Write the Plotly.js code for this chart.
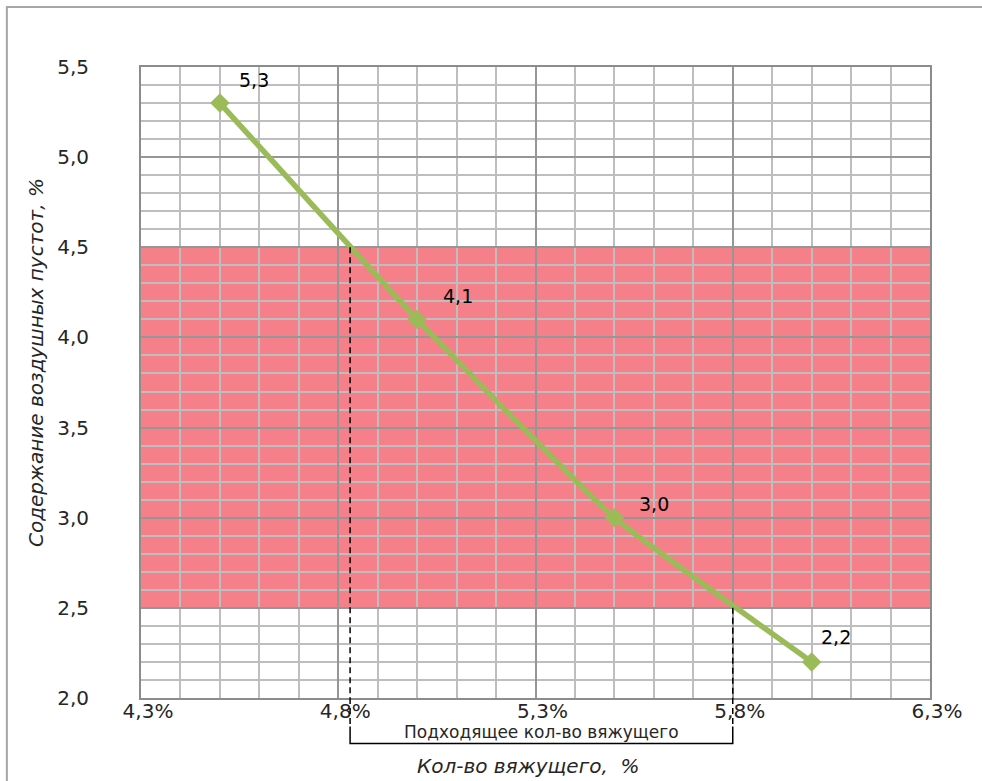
<!DOCTYPE html>
<html>
<head>
<meta charset="utf-8">
<script src="https://cdn.plot.ly/plotly-3.0.1.min.js"></script>
<style>
  html, body { margin: 0; padding: 0; background: #ffffff; }
  #chart { width: 982px; height: 781px; }
</style>
</head>
<body>
<div id="chart"></div>
<script>
// Data
const binderPct = [4.5, 5.0, 5.5, 6.0];
const airVoids = [5.3, 4.1, 3.0, 2.2];
const pointLabels = ['5,3', '4,1', '3,0', '2,2'];
const bandRange = [2.5, 4.5];
const suitableBinder = [4.83, 5.80];
const xTickRange = [4.3, 6.3];
const yTickRange = [2.0, 5.5];
const bracketLabel = 'Подходящее кол-во вяжущего';
const xTitle = 'Кол-во вяжущего,\u00a0\u00a0%';
const yTitle = 'Содержание воздушных пустот, %';

// label placement (pixels, style only)
const labelDX = [34, 41, 40, 24];
const labelDY = [23, 23, 14, 25];

const FONT = 'DejaVu Sans, Verdana, sans-serif';
const TXT = '#262626';

const trace = {
  x: binderPct,
  y: airVoids,
  type: 'scatter',
  mode: 'lines+markers',
  line: { color: '#9BBB59', width: 5.5, shape: 'spline', smoothing: 0.4 },
  marker: { symbol: 'diamond', size: 15, color: '#9BBB59' },
  hoverinfo: 'skip',
  cliponaxis: false
};

const dash = { color: '#000000', width: 1.5, dash: '6px,4px' };
const shapes = [
  { type: 'rect', xref: 'x', yref: 'y', x0: xTickRange[0], x1: xTickRange[1], y0: bandRange[0], y1: bandRange[1],
    fillcolor: '#F5808A', line: { width: 0 }, layer: 'below' },
  { type: 'line', xref: 'x', yref: 'y', x0: suitableBinder[0], x1: suitableBinder[0], y0: bandRange[1], y1: yTickRange[0], line: dash },
  { type: 'line', xref: 'x', yref: 'y', x0: suitableBinder[1], x1: suitableBinder[1], y0: bandRange[0], y1: yTickRange[0], line: dash },
  { type: 'line', xref: 'x', yref: 'paper', x0: suitableBinder[0], x1: suitableBinder[0], y0: 0, y1: -0.045, line: dash },
  { type: 'line', xref: 'x', yref: 'paper', x0: suitableBinder[1], x1: suitableBinder[1], y0: 0, y1: -0.045, line: dash },
  { type: 'path', xref: 'x', yref: 'paper',
    path: 'M ' + suitableBinder[0] + ',-0.045 L ' + suitableBinder[0] + ',-0.072 L ' + suitableBinder[1] + ',-0.072 L ' + suitableBinder[1] + ',-0.045',
    line: { color: '#000000', width: 1.5 } },
  { type: 'path', xref: 'paper', yref: 'paper',
    path: 'M -0.170,-0.2 L -0.170,1.095 L 1.2,1.095',
    line: { color: '#A6A6A6', width: 2 } }
];

const annotations = pointLabels.map((t, i) => ({
  x: binderPct[i], y: airVoids[i], xref: 'x', yref: 'y',
  text: t, showarrow: false, xshift: labelDX[i], yshift: labelDY[i],
  font: { family: FONT, size: 19, color: '#000000' }
}));
annotations.push(
  { xref: 'x', yref: 'paper', x: (suitableBinder[0] + suitableBinder[1]) / 2, y: -0.054,
    text: bracketLabel, showarrow: false, xanchor: 'center', yanchor: 'middle',
    font: { family: FONT, size: 17, color: TXT } },
  { xref: 'paper', yref: 'paper', x: 0.49, y: -0.108, text: '<i>' + xTitle + '</i>',
    showarrow: false, xanchor: 'center', yanchor: 'middle', font: { family: FONT, size: 20, color: TXT } },
  { xref: 'paper', yref: 'paper', x: -0.133, y: 0.531, text: '<i>' + yTitle + '</i>',
    showarrow: false, xanchor: 'center', yanchor: 'middle', textangle: -90,
    font: { family: FONT, size: 20, color: TXT } }
);

const layout = {
  width: 982, height: 781,
  margin: { l: 141, r: 52, t: 67, b: 83 },
  paper_bgcolor: '#ffffff', plot_bgcolor: '#ffffff',
  separators: ', ',
  showlegend: false,
  font: { family: FONT, size: 20, color: TXT },
  xaxis: {
    range: xTickRange, tick0: 4.3, dtick: 0.5, tickformat: '.1f', ticksuffix: '%',
    showgrid: true, gridcolor: '#969696', gridwidth: 2,
    minor: { tick0: 4.3, dtick: 0.1, showgrid: true, gridcolor: '#BEBEBE', gridwidth: 2 },
    showline: true, linecolor: '#8C8C8C', linewidth: 2, mirror: true,
    zeroline: false, ticks: '', ticklabelshift: 7, ticklabelstandoff: -6,
    tickfont: { family: FONT, size: 20, color: TXT }
  },
  yaxis: {
    range: yTickRange, tick0: 2.0, dtick: 0.5, tickformat: '.1f',
    showgrid: true, gridcolor: '#969696', gridwidth: 2,
    minor: { tick0: 2.0, dtick: 0.1, showgrid: true, gridcolor: '#BEBEBE', gridwidth: 2 },
    showline: true, linecolor: '#8C8C8C', linewidth: 2, mirror: true,
    zeroline: false, ticks: '', ticklabelstandoff: 46,
    tickfont: { family: FONT, size: 20, color: TXT }
  },
  shapes: shapes,
  annotations: annotations
};

Plotly.newPlot('chart', [trace], layout, { displayModeBar: false, staticPlot: true });
</script>
</body>
</html>
